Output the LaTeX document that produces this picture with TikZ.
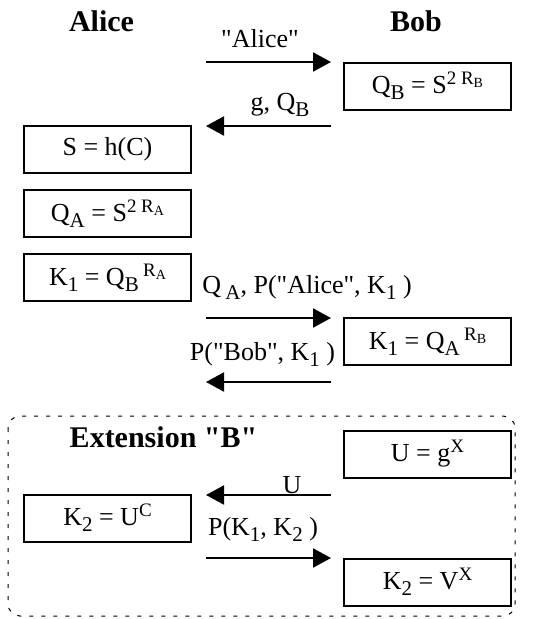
\documentclass[tikz,border=0pt]{standalone}
\usepackage{fontspec}
\setmainfont{Liberation Serif}[Ligatures=TeXOff]
\usetikzlibrary{arrows.meta}
\tikzset{
  msgbox/.style={draw, line width=2pt, minimum width=167pt, minimum height=47pt, inner sep=0pt},
  msg/.style={line width=2pt, -{Triangle[length=18pt,width=19pt]}},
  lbl/.style={anchor=base, inner sep=0pt},
  party/.style={anchor=base, inner sep=0pt, font=\fontsize{30}{36}\selectfont\bfseries}
}
% lowered and raised indices, as in the protocol figure
\newcommand{\sub}[1]{\raisebox{-6pt}{\fontsize{21}{24}\selectfont #1}}
\newcommand{\sups}[1]{\raisebox{9pt}{\fontsize{19}{22}\selectfont #1}}
\newcommand{\ssub}[1]{\raisebox{-3pt}{\fontsize{14}{16}\selectfont #1}}
\begin{document}
\begin{tikzpicture}[x=1pt, y=-1pt, every node/.style={font=\fontsize{26}{31}\selectfont}]
  \useasboundingbox (0,0) rectangle (547,619);
  \node[party] (alice) at (101.5,31) {Alice};
  \node[party] (bob) at (416,31) {Bob};
  % boxes of Alice (left) and Bob (right)
  \node[msgbox] (qb) at (427.5,86) {Q\sub{B} = S\sups{2 R\ssub{B}}};
  \node[msgbox] (sh) at (107.5,149.5) {S = h(C)};
  \node[msgbox] (qa) at (107.5,213.5) {Q\sub{A} = S\sups{2 R\ssub{A}}};
  \node[msgbox] (ka) at (107.5,277.5) {K\sub{1} = Q\sub{B}\,\sups{R\ssub{A}}};
  \node[msgbox] (kb) at (427.5,341.5) {K\sub{1} = Q\sub{A}\,\sups{R\ssub{B}}};
  % the messages
  \coordinate (l1) at (206,62);  \coordinate (r1) at (331,62);
  \coordinate (l2) at (206,126); \coordinate (r2) at (331,126);
  \coordinate (l3) at (206,318); \coordinate (r3) at (331,318);
  \coordinate (l4) at (206,382); \coordinate (r4) at (331,382);
  \draw[msg] (l1) -- (r1);
  \draw[msg] (r2) -- (l2);
  \draw[msg] (l3) -- (r3);
  \draw[msg] (r4) -- (l4);
  \node[lbl] (m1) at (260,47) {"Alice"};
  \node[lbl] (m2) at (280,110) {g, Q\sub{B}};
  \node[lbl] (m3) at (307,293) {Q\,\sub{A}, P("Alice", K\sub{1}\ )};
  \node[lbl] (m4) at (262.5,360) {P("Bob", K\sub{1}\ )};
  % extension B
  \draw[line width=1pt, dash pattern=on 4pt off 8pt, rounded corners=12pt] (8,416) rectangle (515,616);
  \node[party] (ext) at (163.5,447) {Extension "B"};
  \node[msgbox] (ux) at (427.5,454) {U = g\sups{X}};
  \node[msgbox] (k2a) at (107.5,518) {K\sub{2} = U\sups{C}};
  \node[msgbox] (k2b) at (427.5,582) {K\sub{2} = V\sups{X}};
  \coordinate (l5) at (206,495); \coordinate (r5) at (331,495);
  \coordinate (l6) at (206,558); \coordinate (r6) at (331,558);
  \draw[msg] (r5) -- (l5);
  \draw[msg] (l6) -- (r6);
  \node[lbl] (m5) at (292,493) {U};
  \node[lbl] (m6) at (263,535) {P(K\sub{1}, K\sub{2}\ )};
\end{tikzpicture}
\end{document}
